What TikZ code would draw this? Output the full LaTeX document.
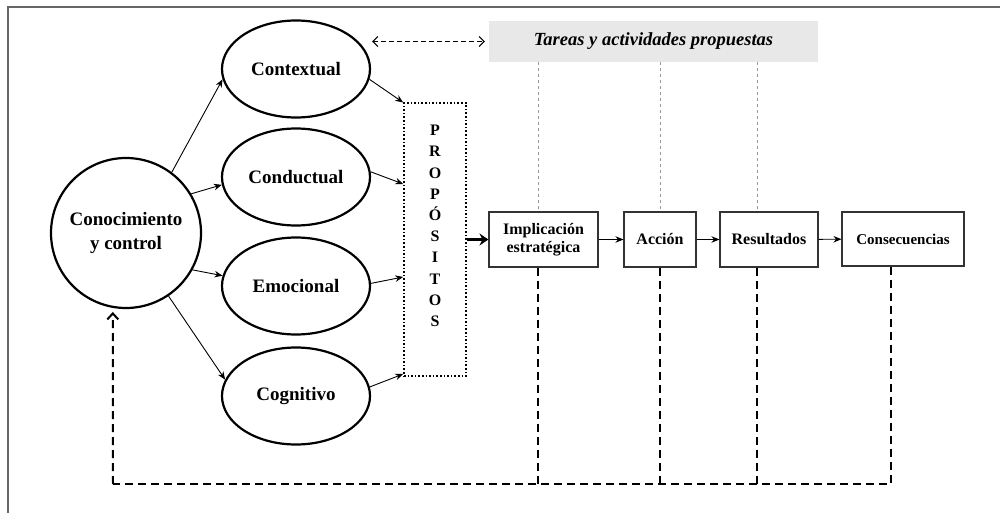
\documentclass[tikz,border=0pt]{standalone}
\usepackage{fontspec}
\setmainfont{Liberation Serif}
\usetikzlibrary{shapes.geometric,arrows.meta}
\begin{document}
\begin{tikzpicture}[x=1pt,y=-1pt,
  oval/.style={ellipse,draw,line width=2.2pt,minimum width=148pt,minimum height=97pt,inner sep=0pt,font=\bfseries\fontsize{19}{21}\selectfont},
  stagebox/.style={rectangle,draw=black!80,line width=1.1pt,inner sep=0pt,font=\bfseries\fontsize{16}{18}\selectfont,align=center},
  arr/.style={-{Stealth[length=8pt,width=6.5pt]},line width=0.9pt},
  fb/.style={line width=2pt,dash pattern=on 8pt off 5pt},
  guide/.style={draw=black!40,line width=0.9pt,dash pattern=on 3pt off 3pt}]
\useasboundingbox (0,0) rectangle (1000,513);
\clip (0,0) rectangle (1000,513);
\draw[draw=black!60,line width=1.4pt] (8,7) rectangle (1010,530);

% nodes
\node[circle,draw,line width=2.2pt,minimum size=150pt,inner sep=0pt,align=center,font=\bfseries\fontsize{19}{24}\selectfont] (k) at (126,233) {Conocimiento\\y control};
\node[oval] (ctx) at (296,69) {Contextual};
\node[oval] (cnd) at (296,177) {Conductual};
\node[oval] (emo) at (296,286) {Emocional};
\node[oval] (cog) at (296,396) {Cognitivo};

\node[rectangle,draw,line width=1.6pt,dotted,minimum width=62pt,minimum height=273pt,inner sep=0pt,align=center,font=\bfseries\fontsize{16}{21.2}\selectfont] (prop) at (435,239.5) {P\\R\\O\\P\\Ó\\S\\I\\T\\O\\S\\[6pt]};

\node[rectangle,fill=black!9,minimum width=329pt,minimum height=41pt,inner sep=0pt,font=\bfseries\itshape\fontsize{18.5}{21}\selectfont] (tareas) at (653.5,41.5) {Tareas y actividades propuestas};

\node[stagebox,minimum width=109pt,minimum height=55pt] (imp) at (543.5,239.5) {Implicación\\estratégica};
\node[stagebox,minimum width=72pt,minimum height=55pt] (acc) at (660,239.5) {Acción};
\node[stagebox,minimum width=98pt,minimum height=55pt] (res) at (769,239.5) {Resultados};
\node[stagebox,minimum width=122pt,minimum height=54pt,font=\bfseries\fontsize{15}{17}\selectfont] (cons) at (903,239) {Consecuencias};

\coordinate (fbL) at (113,484);

% arrows from knowledge
\draw[arr] (k.53) -- (ctx.188);
\draw[arr] (k.31) -- (cnd.186);
\draw[arr] (k.-29) -- (emo.172);
\draw[arr] (k.-56) -- (cog.167);

% arrows to PROPOSITOS
\draw[arr] (ctx.-8) -- ([yshift=137pt]prop.west);
\draw[arr] (cnd.4) -- ([yshift=55.5pt]prop.west);
\draw[arr] (emo.2) -- ([yshift=-37.5pt]prop.west);
\draw[arr] (cog.7) -- ([yshift=-134.5pt]prop.west);

% main chain
\draw[-{Stealth[length=9pt,width=12pt]},line width=3.3pt] (prop.east) -- (imp.west);
\draw[arr] (imp) -- (acc);
\draw[arr] (acc) -- (res);
\draw[arr] (res) -- (cons);

% dashed double arrow
\draw[{Straight Barb[length=5pt,width=10pt]}-{Straight Barb[length=5pt,width=10pt]},line width=1pt,dash pattern=on 5pt off 3pt,shorten <=1pt,shorten >=4pt] (ctx.east |- tareas.west) -- (tareas.west);

% gray guides
\draw[guide] ([xshift=-5.5pt]imp.north |- tareas.south) -- ([xshift=-5.5pt]imp.north);
\draw[guide] (acc.north |- tareas.south) -- (acc.north);
\draw[guide] ([xshift=-12pt]res.north |- tareas.south) -- ([xshift=-12pt]res.north);

% feedback
\draw[fb] ([xshift=-5.5pt]imp.south) -- ([xshift=-5.5pt]imp.south |- fbL);
\draw[fb] (acc.south) -- (acc.south |- fbL);
\draw[fb] ([xshift=-12pt]res.south) -- ([xshift=-12pt]res.south |- fbL);
\draw[fb] ([xshift=-12pt]cons.south) |- (fbL);
\draw[fb,-{Straight Barb[length=6pt,width=11pt]},shorten >=4pt] (fbL) -- (k.260);
\end{tikzpicture}
\end{document}
